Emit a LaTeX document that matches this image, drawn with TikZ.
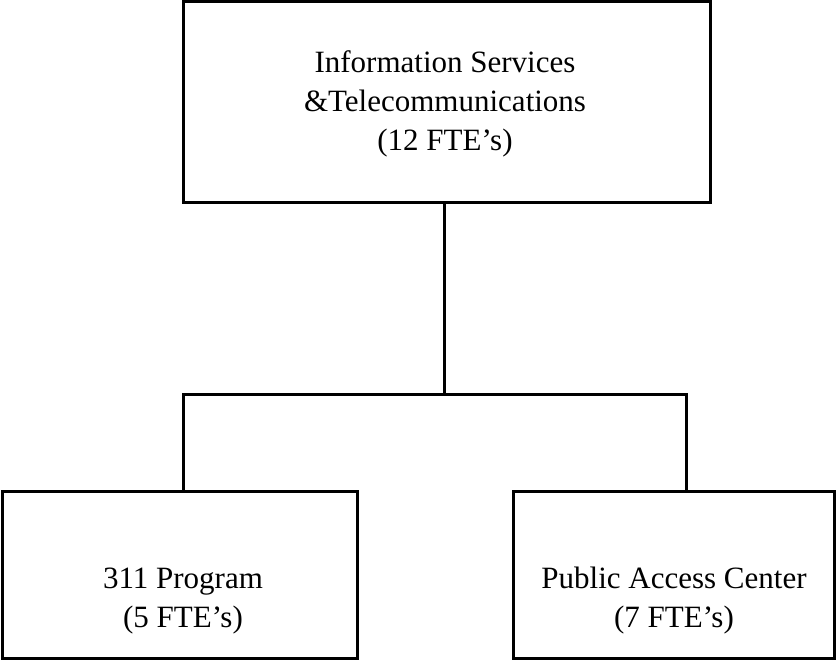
\documentclass[tikz,border=0pt]{standalone}
\usepackage{fontspec}
\setmainfont{Liberation Serif}
\begin{document}
\begin{tikzpicture}[x=1pt,y=-1pt,line width=3pt,
  box/.style={draw=black,rectangle,inner sep=0pt,outer sep=0pt},
  lbl/.style={align=center,inner sep=0pt,font=\fontsize{31}{39}\selectfont}]
\useasboundingbox (0,0) rectangle (836,660);
\node[box,minimum width=527pt,minimum height=201pt] (top) at (446.5,102.5) {};
\node[box,minimum width=355pt,minimum height=167pt] (left) at (179.5,574.5) {};
\node[box,minimum width=321pt,minimum height=167pt] (right) at (673.5,574.5) {};
\node[lbl] (ttop) at (445,104) {Information Services\\\&Telecommunications\\(12 FTE’s)};
\node[lbl] (tleft) at (183,601) {311 Program\\(5 FTE’s)};
\node[lbl] (tright) at (674,601) {Public Access Center\\(7 FTE’s)};
\coordinate (j) at (444,395);
\coordinate (bl) at (183,395);
\coordinate (br) at (686,395);
\draw (top.south -| j) -- (j);
\draw (bl |- left.north) -- (bl) -- (br) -- (br |- right.north);
\end{tikzpicture}
\end{document}
